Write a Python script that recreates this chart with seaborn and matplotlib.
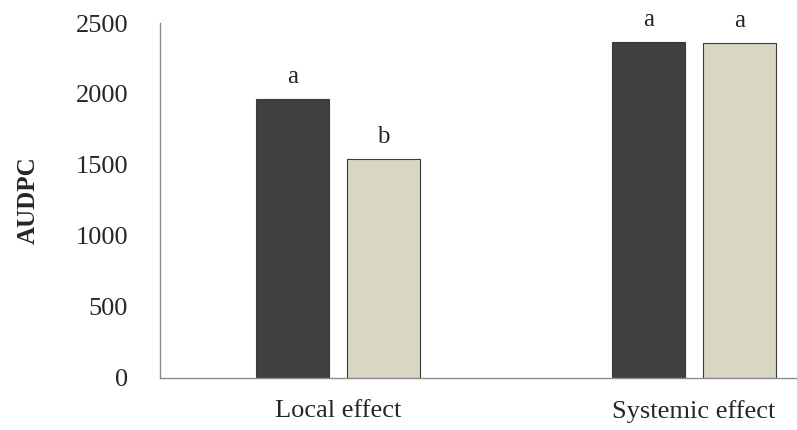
import pandas as pd
import matplotlib
matplotlib.use("Agg")
import matplotlib.pyplot as plt
import seaborn as sns

# values
effects = ["Local effect", "Systemic effect"]
treatments = ["Treatment 1", "Treatment 2"]
audpc_t1 = [1963, 2364]
audpc_t2 = [1542, 2356]
letters_t1 = ["a", "a"]
letters_t2 = ["b", "a"]

df = pd.DataFrame({
    "Effect": effects * 2,
    "Treatment": [treatments[0]] * 2 + [treatments[1]] * 2,
    "AUDPC": audpc_t1 + audpc_t2,
    "Letter": letters_t1 + letters_t2,
})

sns.set_style("white")
plt.rcParams["font.family"] = ["Liberation Serif", "DejaVu Serif"]

fig = plt.figure(figsize=(7.97, 4.3), dpi=100)
ax = fig.add_axes([0.2008, 0.121, 0.7992, 0.8255])

sns.barplot(data=df, x="Effect", y="AUDPC", hue="Treatment",
            palette=["#404040", "#DCD8C1"], width=0.513, gap=0.2,
            edgecolor="#3a3a3a", linewidth=0.8, legend=False, ax=ax)

# significance letters above each bar
for container, letters in zip(ax.containers, [letters_t1, letters_t2]):
    for bar, txt in zip(container, letters):
        ax.annotate(txt, (bar.get_x() + bar.get_width() / 2, bar.get_height()),
                    xytext=(0, 8), textcoords="offset points",
                    ha="center", va="bottom", fontsize=18)

ax.set_ylim(0, 2500)
ax.set_yticks([0, 500, 1000, 1500, 2000, 2500])
ax.set_xlim(-0.5, 1.29)
ax.set_xlabel("")
ax.set_ylabel("AUDPC", fontsize=18, fontweight="bold", labelpad=26)
ax.tick_params(axis="both", length=0, labelsize=19)
ax.tick_params(axis="y", pad=23)
ax.tick_params(axis="x", pad=16)

for side in ["top", "right"]:
    ax.spines[side].set_visible(False)
for side in ["left", "bottom"]:
    ax.spines[side].set_color("#8c8c8c")
    ax.spines[side].set_linewidth(1.0)

fig.savefig("out.png", dpi=100)
